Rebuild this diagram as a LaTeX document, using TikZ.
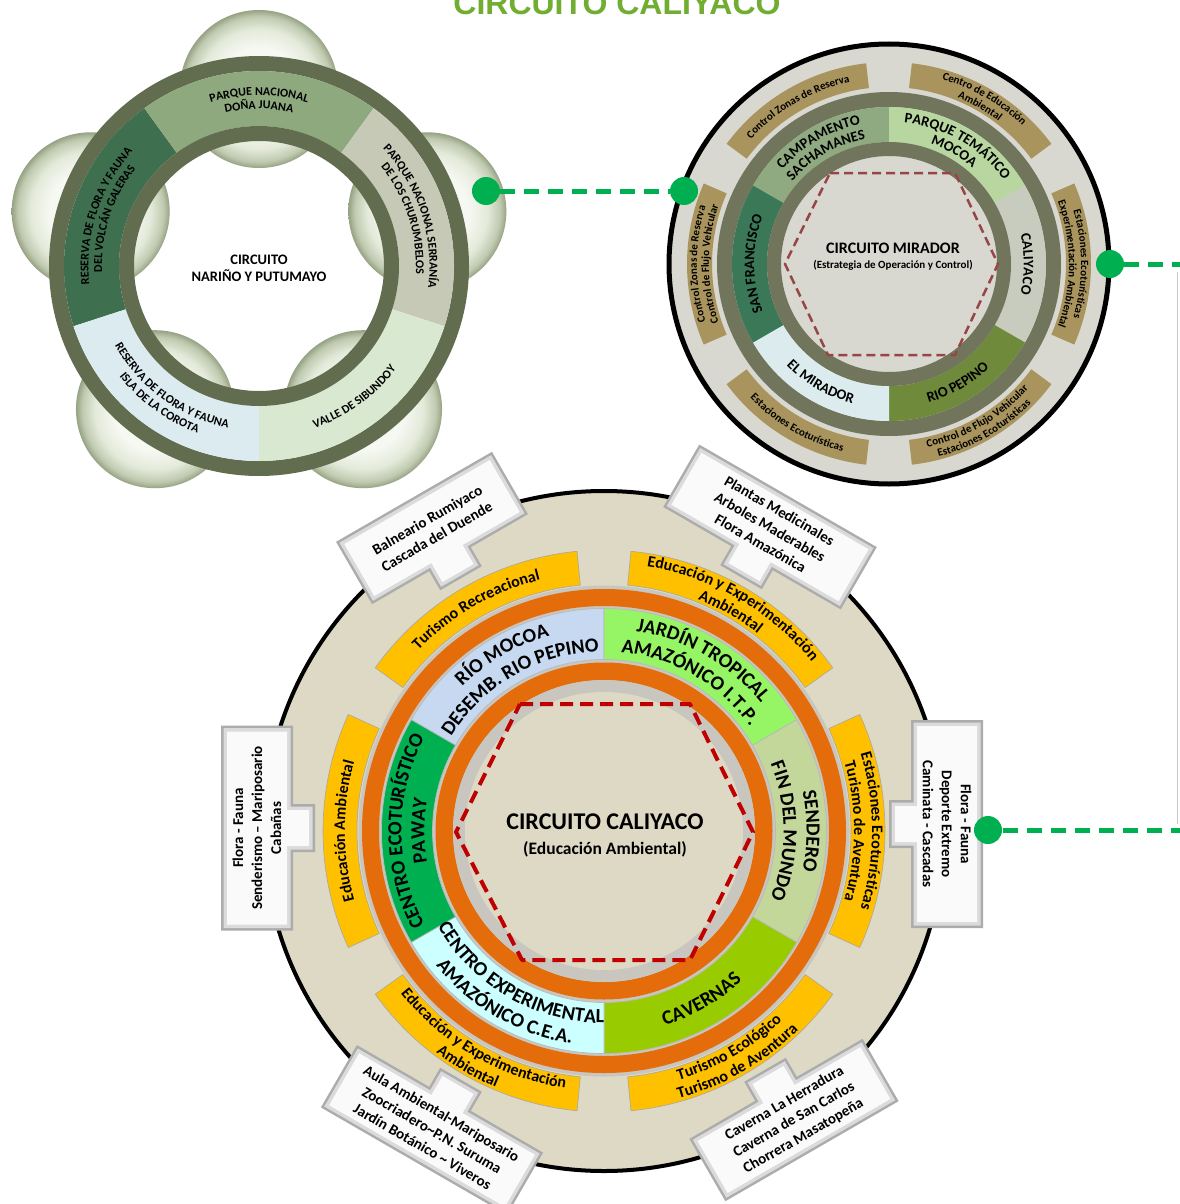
\documentclass[tikz,border=0pt]{standalone}
\usepackage{fontspec}
\setmainfont{Carlito}
\newfontfamily\titlefont{Liberation Sans}
\usetikzlibrary{calc,decorations.text}

\definecolor{grn}{RGB}{0,176,80}
\definecolor{titlegreen}{RGB}{112,173,48}
\definecolor{olA}{RGB}{98,108,78}
\definecolor{olB}{RGB}{112,117,92}
\definecolor{tlA}{RGB}{62,112,80}
\definecolor{tlB}{RGB}{143,169,126}
\definecolor{tlC}{RGB}{198,201,182}
\definecolor{tlD}{RGB}{217,232,208}
\definecolor{tlE}{RGB}{220,235,240}
\definecolor{trbg}{RGB}{216,215,208}
\definecolor{tanC}{RGB}{168,148,92}
\definecolor{trA}{RGB}{143,170,128}
\definecolor{trB}{RGB}{183,214,160}
\definecolor{trC}{RGB}{200,204,190}
\definecolor{trD}{RGB}{112,138,60}
\definecolor{trE}{RGB}{220,236,238}
\definecolor{trF}{RGB}{58,120,88}
\definecolor{hexR}{RGB}{150,70,70}
\definecolor{beigeC}{RGB}{221,217,196}
\definecolor{yel}{RGB}{255,192,0}
\definecolor{org}{RGB}{228,108,10}
\definecolor{halo}{RGB}{200,198,190}
\definecolor{mA}{RGB}{198,217,241}
\definecolor{mB}{RGB}{150,245,100}
\definecolor{mC}{RGB}{196,215,155}
\definecolor{mD}{RGB}{153,204,0}
\definecolor{mE}{RGB}{204,255,255}
\definecolor{mF}{RGB}{0,176,80}
\definecolor{hexM}{RGB}{192,0,0}
\definecolor{bubA}{RGB}{246,248,242}
\definecolor{bubB}{RGB}{228,234,218}
\definecolor{bubC}{RGB}{192,202,176}
\definecolor{bubD}{RGB}{150,162,132}

\pgfdeclareradialshading{bubble}{\pgfpoint{0bp}{0bp}}{color(0bp)=(bubA); color(13bp)=(bubA); color(19bp)=(bubB); color(23bp)=(bubC); color(25bp)=(bubD); color(50bp)=(bubD)}

\newcommand\ftMain{\bfseries\fontsize{20}{24}\selectfont}
\newcommand\ftYel{\bfseries\fontsize{16}{20}\selectfont}
\newcommand\ftSeg{\bfseries\fontsize{14.5}{17}\selectfont}
\newcommand\ftTan{\bfseries\fontsize{11}{13}\selectfont}
\newcommand\ftLeft{\bfseries\fontsize{12}{14}\selectfont}

% center, r-in, r-out, a1, a2, style
\newcommand\mysegment[6]{\fill[#6] ($(#1)+(#4:#3)$) arc[start angle=#4,end angle=#5,radius=#3] -- ($(#1)+(#5:#2)$) arc[start angle=#5,end angle=#4,radius=#2] -- cycle;}
% center, r-in, r-out, style
\newcommand\myring[4]{\fill[#4,even odd rule] (#1) circle[radius=#3] (#1) circle[radius=#2];}
% center, radius, mid angle, format, text
\newcommand\cwtxt[5]{\path[decorate,decoration={text along path,text align=center,text={|#4|#5}}] ($(#1)+(#3+70:#2)$) arc[start angle=#3+70,end angle=#3-70,radius=#2];}
\newcommand\ccwtxt[5]{\path[decorate,decoration={text along path,text align=center,text={|#4|#5}}] ($(#1)+(#3-70:#2)$) arc[start angle=#3-70,end angle=#3+70,radius=#2];}

\newcommand\mycpath[1]{(-\cbw+#1,-36+#1) -- (-24+#1,-36+#1) -- (-24+#1,-58+#1) -- (24-#1,-58+#1) -- (24-#1,-36+#1) -- (\cbw-#1,-36+#1) -- (\cbw-#1,36-#1) -- (-\cbw+#1,36-#1) -- cycle}
% name, x, y, frame rotation, text rotation, width, text
\newcommand\mycallout[7]{%
\begin{scope}[shift={(#2,#3)},rotate=#4]
\pgfmathsetmacro\cbw{#6/2}
\fill[gray!65] \mycpath{0};
\fill[gray!28] \mycpath{2.5};
\fill[white!96!gray] \mycpath{6};
\end{scope}
\node[boxtxt,rotate=#5] (#1) at (#2,#3) {#7};}

\tikzset{
 dot/.style={circle,fill=grn,minimum size=28pt,inner sep=0pt},
 conn/.style={draw=grn,line width=5pt,dash pattern=on 15pt off 9pt},
 boxtxt/.style={font=\bfseries\fontsize{15}{19}\selectfont,align=center,inner sep=0pt},
 centertxt/.style={font=\bfseries,align=center,inner sep=0pt},
 segline/.style={draw=gray!55,line width=0.7pt}
}

\begin{document}
\begin{tikzpicture}[x=1pt,y=1pt,line join=round]
\useasboundingbox (0,0) rectangle (1179,-1204);
\fill[white] (0,0) rectangle (1179,-1204);

\coordinate (L) at (259,-266);
\coordinate (R) at (889,-264);
\coordinate (M) at (604,-831);

%================ TOP LEFT: NARIÑO Y PUTUMAYO
\foreach \a in {90,18,-54,-126,162}{
  \shade[shading=bubble] ($(L)+(\a:177)$) circle[radius=79];
}
\myring{L}{195}{210}{olA}
\mysegment{L}{140}{195}{126}{198}{tlA}
\mysegment{L}{140}{195}{54}{126}{tlB}
\mysegment{L}{140}{195}{-18}{54}{tlC}
\mysegment{L}{140}{195}{-90}{-18}{tlD}
\mysegment{L}{140}{195}{-162}{-90}{tlE}
\myring{L}{125}{140}{olA}
\cwtxt{L}{170.5}{162}{\ftLeft}{RESERVA DE FLORA Y FAUNA}
\cwtxt{L}{157}{162}{\ftLeft}{DEL VOLCÁN GALERAS}
\cwtxt{L}{170.5}{90}{\ftLeft}{PARQUE NACIONAL}
\cwtxt{L}{157}{90}{\ftLeft}{DOÑA JUANA}
\cwtxt{L}{170.5}{18}{\ftLeft}{PARQUE NACIONAL SERRANÍA}
\cwtxt{L}{157}{18}{\ftLeft}{DE LOS CHURUMBELOS}
\ccwtxt{L}{171.5}{-54}{\ftLeft}{VALLE DE SIBUNDOY}
\ccwtxt{L}{164.5}{-126}{\ftLeft}{RESERVA DE FLORA Y FAUNA}
\ccwtxt{L}{178}{-126}{\ftLeft}{ISLA DE LA COROTA}
\node[centertxt,font=\bfseries\fontsize{14.5}{17}\selectfont] (tlc) at (259,-268) {CIRCUITO\\NARIÑO Y PUTUMAYO};

%================ TOP RIGHT: MIRADOR
\fill[trbg] (R) circle[radius=220];
\draw[black,line width=5pt] (R) circle[radius=220];
\foreach \m in {120,60,0,-60,-120,180}{
  \mysegment{R}{177}{202}{\m-23.5}{\m+23.5}{tanC}
}
\myring{R}{157}{172}{olB}
\mysegment{R}{122}{157}{90}{150}{trA}
\mysegment{R}{122}{157}{30}{90}{trB}
\mysegment{R}{122}{157}{-30}{30}{trC}
\mysegment{R}{122}{157}{-90}{-30}{trD}
\mysegment{R}{122}{157}{-150}{-90}{trE}
\mysegment{R}{122}{157}{150}{210}{trF}
\myring{R}{108}{122}{olB}
\draw[hexR,line width=2.5pt,dash pattern=on 9pt off 5pt] (830,-173) -- (955,-173) -- (998,-264) -- (955,-355) -- (828,-355) -- (785,-264) -- cycle;
\cwtxt{R}{142.3}{120}{\ftSeg}{CAMPAMENTO}
\cwtxt{R}{127.3}{120}{\ftSeg}{SACHAMANES}
\cwtxt{R}{142.3}{60}{\ftSeg}{PARQUE TEMÁTICO}
\cwtxt{R}{127.3}{60}{\ftSeg}{MOCOA}
\cwtxt{R}{134.8}{0}{\ftSeg}{CALIYACO}
\ccwtxt{R}{144.2}{-60}{\ftSeg}{RIO PEPINO}
\ccwtxt{R}{144.2}{-120}{\ftSeg}{EL MIRADOR}
\cwtxt{R}{134.8}{180}{\ftSeg}{SAN FRANCISCO}
\cwtxt{R}{186}{120}{\ftTan}{Control Zonas de Reserva}
\cwtxt{R}{192}{60}{\ftTan}{Centro de Educación}
\cwtxt{R}{180}{60}{\ftTan}{Ambiental}
\cwtxt{R}{192}{0}{\ftTan}{Estaciones Ecoturísticas}
\cwtxt{R}{180}{0}{\ftTan}{Experimentación Ambiental}
\ccwtxt{R}{187}{-60}{\ftTan}{Control de Flujo Vehicular}
\ccwtxt{R}{199}{-60}{\ftTan}{Estaciones Ecoturísticas}
\ccwtxt{R}{193}{-120}{\ftTan}{Estaciones Ecoturísticas}
\cwtxt{R}{192}{180}{\ftTan}{Control Zonas de Reserva}
\cwtxt{R}{180}{180}{\ftTan}{Control de Flujo Vehicular}
\node[centertxt,font=\bfseries\fontsize{16}{19}\selectfont] (trc1) at (893,-248) {CIRCUITO MIRADOR};
\node[centertxt,font=\bfseries\fontsize{11}{13}\selectfont] (trc2) at (893,-265) {(Estrategia de Operación y Control)};

%================ MAIN: CALIYACO
\fill[beigeC] (M) circle[radius=340];
\draw[black,line width=4pt] (M) circle[radius=340];
\foreach \m in {120,60,0,-60,-120,180}{
  \mysegment{M}{247}{281}{\m-24.5}{\m+24.5}{fill=yel,draw=gray!70,line width=0.6pt}
}
\fill[halo] (M) circle[radius=245.5];
\myring{M}{225}{242}{org}
\mysegment{M}{171.5}{222.5}{90}{150}{fill=mA,segline}
\mysegment{M}{171.5}{222.5}{30}{90}{fill=mB,segline}
\mysegment{M}{171.5}{222.5}{-30}{30}{fill=mC,segline}
\mysegment{M}{171.5}{222.5}{-90}{-30}{fill=mD,segline}
\mysegment{M}{171.5}{222.5}{-150}{-90}{fill=mE,segline}
\mysegment{M}{171.5}{222.5}{150}{210}{fill=mF,segline}
\myring{M}{151}{168.5}{org}
\myring{M}{139}{151}{halo}
\fill[beigeC] (M) circle[radius=139];
\draw[hexM,line width=4pt,dash pattern=on 13pt off 7pt] (520,-704) -- (690,-704) -- (753,-832) -- (690,-960) -- (522,-960) -- (456,-832) -- cycle;

\cwtxt{M}{202.5}{120}{\ftMain}{RÍO MOCOA}
\cwtxt{M}{179.5}{120}{\ftMain}{DESEMB. RIO PEPINO}
\cwtxt{M}{202.5}{60}{\ftMain}{JARDÍN TROPICAL}
\cwtxt{M}{179.5}{60}{\ftMain}{AMAZÓNICO I.T.P.}
\cwtxt{M}{202.5}{0}{\ftMain}{SENDERO}
\cwtxt{M}{179.5}{0}{\ftMain}{FIN DEL MUNDO}
\ccwtxt{M}{203.6}{-60}{\ftMain}{CAVERNAS}
\ccwtxt{M}{192}{-120}{\ftMain}{CENTRO EXPERIMENTAL}
\ccwtxt{M}{215}{-120}{\ftMain}{AMAZÓNICO C.E.A.}
\cwtxt{M}{202.5}{180}{\ftMain}{CENTRO ECOTURÍSTICO}
\cwtxt{M}{179.5}{180}{\ftMain}{PAWAY}

\cwtxt{M}{259}{120}{\ftYel}{Turismo Recreacional}
\cwtxt{M}{268}{60}{\ftYel}{Educación y Experimentación}
\cwtxt{M}{250}{60}{\ftYel}{Ambiental}
\cwtxt{M}{268}{0}{\ftYel}{Estaciones Ecoturísticas}
\cwtxt{M}{250}{0}{\ftYel}{Turismo de Aventura}
\ccwtxt{M}{260}{-60}{\ftYel}{Turismo Ecológico}
\ccwtxt{M}{278}{-60}{\ftYel}{Turismo de Aventura}
\ccwtxt{M}{260}{-120}{\ftYel}{Educación y Experimentación}
\ccwtxt{M}{278}{-120}{\ftYel}{Ambiental}
\cwtxt{M}{259}{180}{\ftYel}{Educación Ambiental}

\node[centertxt,font=\bfseries\fontsize{24}{28}\selectfont] (mc1) at (605,-822) {CIRCUITO CALIYACO};
\node[centertxt,font=\bfseries\fontsize{17.5}{21}\selectfont] (mc2) at (605,-849) {(Educación Ambiental)};

%================ CALLOUT BOXES
\mycallout{cbA}{432}{-528}{30}{30}{180}{Balneario Rumiyaco\\Cascada del Duende}
\mycallout{cbB}{770}{-527}{-30}{-30}{205}{Plantas Medicinales\\Arboles Maderables\\Flora Amazónica}
\mycallout{cbC}{257}{-828}{90}{90}{205}{Flora - Fauna\\Senderismo – Mariposario\\Cabañas}
\mycallout{cbD}{947}{-824}{-90}{-90}{208}{Flora - Fauna\\Deporte Extremo\\Caminata - Cascadas}
\mycallout{cbE}{432}{-1130}{150}{-30}{215}{Aula Ambiental-Mariposario\\Zoocriadero\textasciitilde{}P.N. Suruma\\Jardín Botánico \textasciitilde{} Viveros}
\mycallout{cbF}{794}{-1120}{-150}{30}{200}{Caverna La Herradura\\Caverna de San Carlos\\Chorrera Masatopeña}

%================ CONNECTORS
\node[dot] (d1) at (486,-191) {};
\node[dot] (d2) at (684,-191) {};
\node[dot] (d3) at (1110,-264) {};
\node[dot] (d4) at (988,-830) {};
\coordinate (k1) at (1184,-264);
\coordinate (k2) at (1184,-830);
\coordinate (s1) at (1177,-272);
\coordinate (s2) at (1177,-824);
\draw[gray!45,line width=1pt] (s1) -- (s2);
\draw[conn] (d1) -- (d2);
\draw[conn] (d3) -- (k1) -- (k2) -- (d4);

%================ TITLE
\node[font=\titlefont\bfseries\fontsize{32}{36}\selectfont,text=titlegreen,anchor=base,inner sep=0pt] (title) at (617,-15) {CIRCUITO CALIYACO};
\end{tikzpicture}
\end{document}
